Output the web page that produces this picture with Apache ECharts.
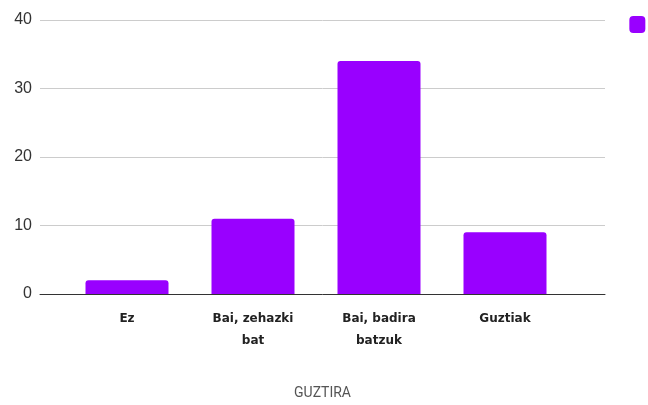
<!DOCTYPE html>
<html>
<head>
<meta charset="utf-8">
<script src="https://cdn.jsdelivr.net/npm/echarts@6/dist/echarts.min.js"></script>
<style>
    html, body { margin: 0; padding: 0; background: #fff; }
    #chart { width: 648px; height: 405px; }
</style>
</head>
<body>
<div id="chart"></div>
<script>
    // datuak
    var categories = ['Ez', 'Bai, zehazki\nbat', 'Bai, badira\nbatzuk', 'Guztiak'];
    var values = [2, 11, 34, 9];
    var yTicks = [0, 10, 20, 30, 40];
    var seriesName = 'GUZTIRA';

    var myChart = echarts.init(document.getElementById('chart'));
    var option = {
        animation: false,
        legend: {
            right: -60,
            top: 11,
            itemWidth: 16,
            itemHeight: 17,
            icon: 'roundRect',
            textStyle: { fontSize: 12, color: '#333' },
            data: [seriesName]
        },
        // grid 0: gridlines + axis; grid 1: bars
        grid: [
            { left: 40, right: 43, top: 20, bottom: 111 },
            { left: 64, right: 80, top: 20, bottom: 111 }
        ],
        xAxis: [
            {
                gridIndex: 0,
                type: 'category',
                data: [''],
                axisLine: { lineStyle: { color: '#333', width: 1 } },
                axisTick: { show: false },
                axisLabel: { show: false },
                name: seriesName,
                nameLocation: 'middle',
                nameGap: 92,
                nameTextStyle: { fontFamily: 'Roboto', fontSize: 14, color: '#555' }
            },
            {
                gridIndex: 1,
                type: 'category',
                data: categories,
                axisLine: { show: false },
                axisTick: { show: false },
                axisLabel: {
                    margin: 14,
                    fontFamily: 'DejaVu Sans',
                    fontWeight: 'bold',
                    fontSize: 12,
                    lineHeight: 22,
                    color: '#222'
                }
            }
        ],
        yAxis: [
            {
                gridIndex: 0,
                type: 'value',
                min: yTicks[0],
                max: yTicks[yTicks.length - 1],
                interval: 10,
                axisLine: { show: false },
                axisTick: { show: false },
                axisLabel: { margin: 8, fontFamily: 'Liberation Sans', fontSize: 16, color: '#333' },
                splitLine: { lineStyle: { color: '#ccc' } }
            },
            {
                gridIndex: 1,
                type: 'value',
                min: yTicks[0],
                max: yTicks[yTicks.length - 1],
                interval: 10,
                show: false,
                splitLine: { show: false }
            }
        ],
        series: [
            {
                name: seriesName,
                type: 'bar',
                xAxisIndex: 1,
                yAxisIndex: 1,
                barWidth: 83,
                itemStyle: { color: '#9900ff', borderRadius: [3, 3, 0, 0] },
                data: values
            }
        ]
    };
    myChart.setOption(option, true);
</script>
</body>
</html>
